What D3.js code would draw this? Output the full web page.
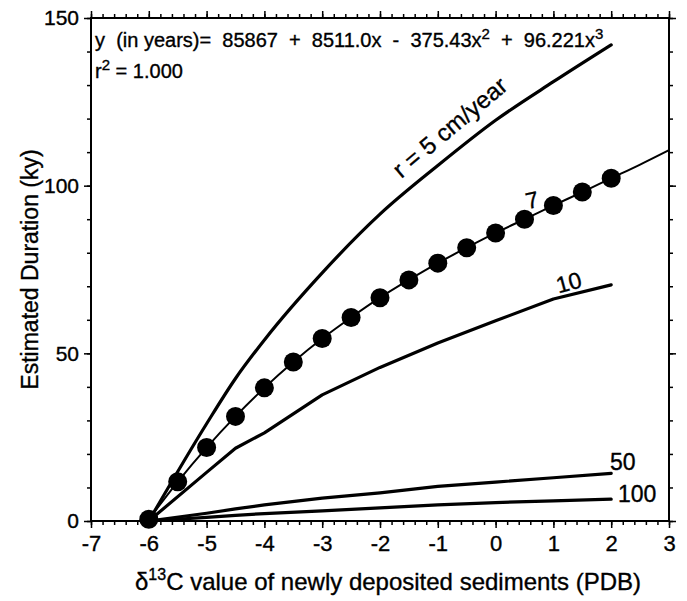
<!DOCTYPE html>
<html>
<head>
<meta charset="utf-8">
<script src="https://cdn.jsdelivr.net/npm/d3@7"></script>
<style>
  body { margin: 0; background: #fff; }
  text { font-family: "Liberation Sans", Arial, Helvetica, sans-serif; fill: #000; stroke: #000; stroke-width: 0.35px; }
</style>
</head>
<body>
<div id="chart"></div>
<script>
// --- DATA ---
const xTicks = [-7, -6, -5, -4, -3, -2, -1, 0, 1, 2, 3];
const yTicks = [0, 50, 100, 150];

// r = 7 cm/year, measured points (ky)
const r7X = [-6, -5.5, -5, -4.5, -4, -3.5, -3, -2.5, -2, -1.5, -1, -0.5, 0, 0.5, 1, 1.5, 2];
const r7Y = [0.5, 11.7, 21.9, 31.2, 39.7, 47.4, 54.4, 60.7, 66.6, 71.9, 76.9, 81.5, 85.9, 90.0, 94.1, 98.1, 102.2];

// cubic fit drawn through the r = 7 points, continued to +3
const fitX = [-6, -5.5, -5, -4.5, -4, -3.5, -3, -2.5, -2, -1.5, -1, -0.5, 0, 0.5, 1, 1.5, 2, 2.5, 3];
const fitY = [0.5, 11.7, 21.9, 31.2, 39.7, 47.4, 54.4, 60.7, 66.6, 71.9, 76.9, 81.5, 85.9, 90.0, 94.1, 98.1, 102.2, 106.3, 110.6];

// other sedimentation rates
const rateX  = [-6, -5, -4.5, -4, -3, -2, -1, 0, 1, 2];
const r5Y    = [0, 29, 42.5, 54, 74, 91.5, 106, 119.5, 131, 142];
const r10Y   = [0, 14.5, 21.7, 26.3, 37.6, 45.8, 53.1, 59.7, 66.2, 70.4];
const r50Y   = [0, 2.3, 3.6, 4.8, 6.8, 8.4, 10.3, 11.6, 12.9, 14.2];
const r100Y  = [0, 1.1, 1.7, 2.2, 3.0, 3.9, 4.8, 5.5, 6.0, 6.5];

// --- SETUP ---
const width = 687, height = 601;
const margin = { top: 18, right: 18, bottom: 80, left: 91 };

const svg = d3.select('#chart')
  .append('svg')
  .attr('width', width)
  .attr('height', height);

const x = d3.scaleLinear().domain([-7, 3]).range([margin.left, width - margin.right]);
const y = d3.scaleLinear().domain([0, 150]).range([height - margin.bottom, margin.top]);

const fs = 20;

// --- AXES (mirrored, outward ticks) ---
const xMinor = d3.range(-7, 3.001, 0.2);
const yMinor = d3.range(0, 150.1, 10);

function cleanAxis(g) {
  g.select('.domain').remove();
  g.selectAll('line').attr('stroke', '#000').attr('stroke-width', 1.5);
}

svg.append('g').attr('transform', `translate(0,${y(0)})`)
  .call(d3.axisBottom(x).tickValues(xMinor).tickSize(4).tickFormat(''))
  .call(cleanAxis);
svg.append('g').attr('transform', `translate(0,${y(0)})`)
  .call(d3.axisBottom(x).tickValues(xTicks).tickSize(7).tickPadding(7).tickFormat(d => d < 0 ? '-' + Math.abs(d) : d))
  .call(cleanAxis)
  .selectAll('text').style('font-size', '22px');

svg.append('g').attr('transform', `translate(0,${y(150)})`)
  .call(d3.axisTop(x).tickValues(xMinor).tickSize(4).tickFormat(''))
  .call(cleanAxis);
svg.append('g').attr('transform', `translate(0,${y(150)})`)
  .call(d3.axisTop(x).tickValues(xTicks).tickSize(7).tickFormat(''))
  .call(cleanAxis);

svg.append('g').attr('transform', `translate(${x(-7)},0)`)
  .call(d3.axisLeft(y).tickValues(yMinor).tickSize(4).tickFormat(''))
  .call(cleanAxis);
svg.append('g').attr('transform', `translate(${x(-7)},0)`)
  .call(d3.axisLeft(y).tickValues(yTicks).tickSize(7).tickPadding(5))
  .call(cleanAxis)
  .selectAll('text').style('font-size', '21px');

svg.append('g').attr('transform', `translate(${x(3)},0)`)
  .call(d3.axisRight(y).tickValues(yMinor).tickSize(4).tickFormat(''))
  .call(cleanAxis);
svg.append('g').attr('transform', `translate(${x(3)},0)`)
  .call(d3.axisRight(y).tickValues(yTicks).tickSize(7).tickFormat(''))
  .call(cleanAxis);

// frame
svg.append('rect')
  .attr('x', x(-7)).attr('y', y(150))
  .attr('width', x(3) - x(-7)).attr('height', y(0) - y(150))
  .attr('fill', 'none').attr('stroke', '#000').attr('stroke-width', 2);

// --- CURVES ---
const line = d3.line().x(d => x(d[0])).y(d => y(d[1]));

const rates = [
  { ys: r5Y,   curve: d3.curveMonotoneX },
  { ys: r10Y,  curve: d3.curveLinear },
  { ys: r50Y,  curve: d3.curveLinear },
  { ys: r100Y, curve: d3.curveLinear }
];
svg.append('g').selectAll('path.rate')
  .data(rates)
  .enter().append('path')
    .attr('class', 'rate')
    .attr('d', s => line.curve(s.curve)(rateX.map((v, i) => [v, s.ys[i]])))
    .attr('fill', 'none')
    .attr('stroke', '#000')
    .attr('stroke-width', 3.2)
    .attr('stroke-linejoin', 'round')
    .attr('stroke-linecap', 'round');

svg.append('path')
  .attr('d', line.curve(d3.curveMonotoneX)(fitX.map((v, i) => [v, fitY[i]])))
  .attr('fill', 'none')
  .attr('stroke', '#000')
  .attr('stroke-width', 2);

svg.append('g').selectAll('circle')
  .data(r7X.map((v, i) => [v, r7Y[i]]))
  .enter().append('circle')
    .attr('cx', d => x(d[0]))
    .attr('cy', d => y(d[1]))
    .attr('r', 9.5)
    .attr('fill', '#000');

// --- LABELS ---
function label(txt, dx, dy, angle, size) {
  svg.append('text')
    .attr('transform', `translate(${x(dx)},${y(dy)}) rotate(${angle})`)
    .attr('text-anchor', 'middle')
    .style('font-size', size + 'px')
    .text(txt);
}
label('r = 5 cm/year', -0.7, 115.5, -40, 24);
label('7', 0.66, 93.4, -12, 23);
label('10', 1.3, 68.8, -15, 23);
label('50', 2.2, 15.2, 0, 23);
label('100', 2.45, 5.6, 0, 23);

// equation
const eq = svg.append('text')
  .attr('x', x(-6.93)).attr('y', y(141.5))
  .style('font-size', fs + 'px')
  .style('white-space', 'pre');
eq.append('tspan').text('y  (in years)=  85867  +  8511.0x  -  375.43x');
eq.append('tspan').attr('dy', -8).style('font-size', '15px').text('2');
eq.append('tspan').attr('dy', 8).text('  +  96.221x');
eq.append('tspan').attr('dy', -8).style('font-size', '15px').text('3');

const r2 = svg.append('text')
  .attr('x', x(-6.93)).attr('y', y(132.1))
  .style('font-size', fs + 'px')
  .style('white-space', 'pre');
r2.append('tspan').text('r');
r2.append('tspan').attr('dy', -8).style('font-size', '15px').text('2');
r2.append('tspan').attr('dy', 8).text(' = 1.000');

// axis titles
svg.append('text')
  .attr('transform', `translate(38,${(y(0) + y(150)) / 2}) rotate(-90)`)
  .attr('text-anchor', 'middle')
  .style('font-size', '23px')
  .text('Estimated Duration (ky)');

const xt = svg.append('text')
  .attr('x', (x(-7) + x(3)) / 2 + 8)
  .attr('y', 590)
  .attr('text-anchor', 'middle')
  .style('font-size', '24px');
xt.append('tspan').text('δ');
xt.append('tspan').attr('dy', -10).style('font-size', '16px').text('13');
xt.append('tspan').attr('dy', 10).text('C value of newly deposited sediments (PDB)');
</script>
</body>
</html>
